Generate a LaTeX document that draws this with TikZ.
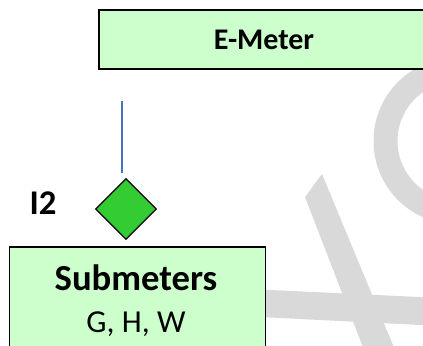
\documentclass[tikz,border=0pt]{standalone}
\usepackage{fontspec}
\setmainfont{Carlito}
\usepackage{tikz}
\usetikzlibrary{shapes.geometric}
\definecolor{boxgreen}{HTML}{CCFFCC}
\definecolor{sensorgreen}{HTML}{33CC33}
\definecolor{linkblue}{HTML}{4472C4}
\definecolor{markgray}{HTML}{D9D9D9}
\begin{document}
\begin{tikzpicture}[x=0.75pt, y=-0.75pt,
		box_style/.style={rectangle,draw=black,line width=1.4pt,fill=boxgreen,inner sep=0pt},
		sensor_style/.style={diamond,draw=black,line width=1pt,fill=sensorgreen,inner sep=0pt,minimum width=45.75pt,minimum height=45.75pt},
		link_style/.style={draw=linkblue,line width=1pt},
		mark_style/.style={fill=markgray}]
		
		\useasboundingbox (0,0) rectangle (423,345);
		\clip (0,0) rectangle (423,345);
		
		% watermark
		\draw[draw=markgray,line width=18pt] (457,141) circle[radius=71.5];
		\fill[mark_style] (305,197) -- (322,174) -- (395,350) -- (364,350) -- cycle;
		\fill[mark_style] (250,289) -- (430,297.5) -- (430,325.5) -- (250,316.5) -- cycle;
		
		\node[box_style,minimum width=247.5pt,minimum height=44.25pt,font=\bfseries\fontsize{22.5}{26}\selectfont] (emeter) at (264,39.5) {E-Meter};
		\node[box_style,minimum width=192pt,minimum height=100pt,anchor=north west] (sub) at (8.5,246) {};
		\node[anchor=base,font=\bfseries\fontsize{27.5}{32}\selectfont] (subname) at (136,290) {Submeters};
		\node[anchor=base,font=\fontsize{24}{28}\selectfont] (sublist) at (136,332) {G, H, W};
		
		\node[sensor_style] (i2) at (126,209) {};
		\node[font=\bfseries\fontsize{26}{30}\selectfont] (i2label) at (43,203) {I2};
		
		\coordinate (linktop) at (122,101);
		\coordinate (linkbot) at (122,173);
		\draw[link_style] (linktop) -- (linkbot);
    
\end{tikzpicture}
\end{document}
